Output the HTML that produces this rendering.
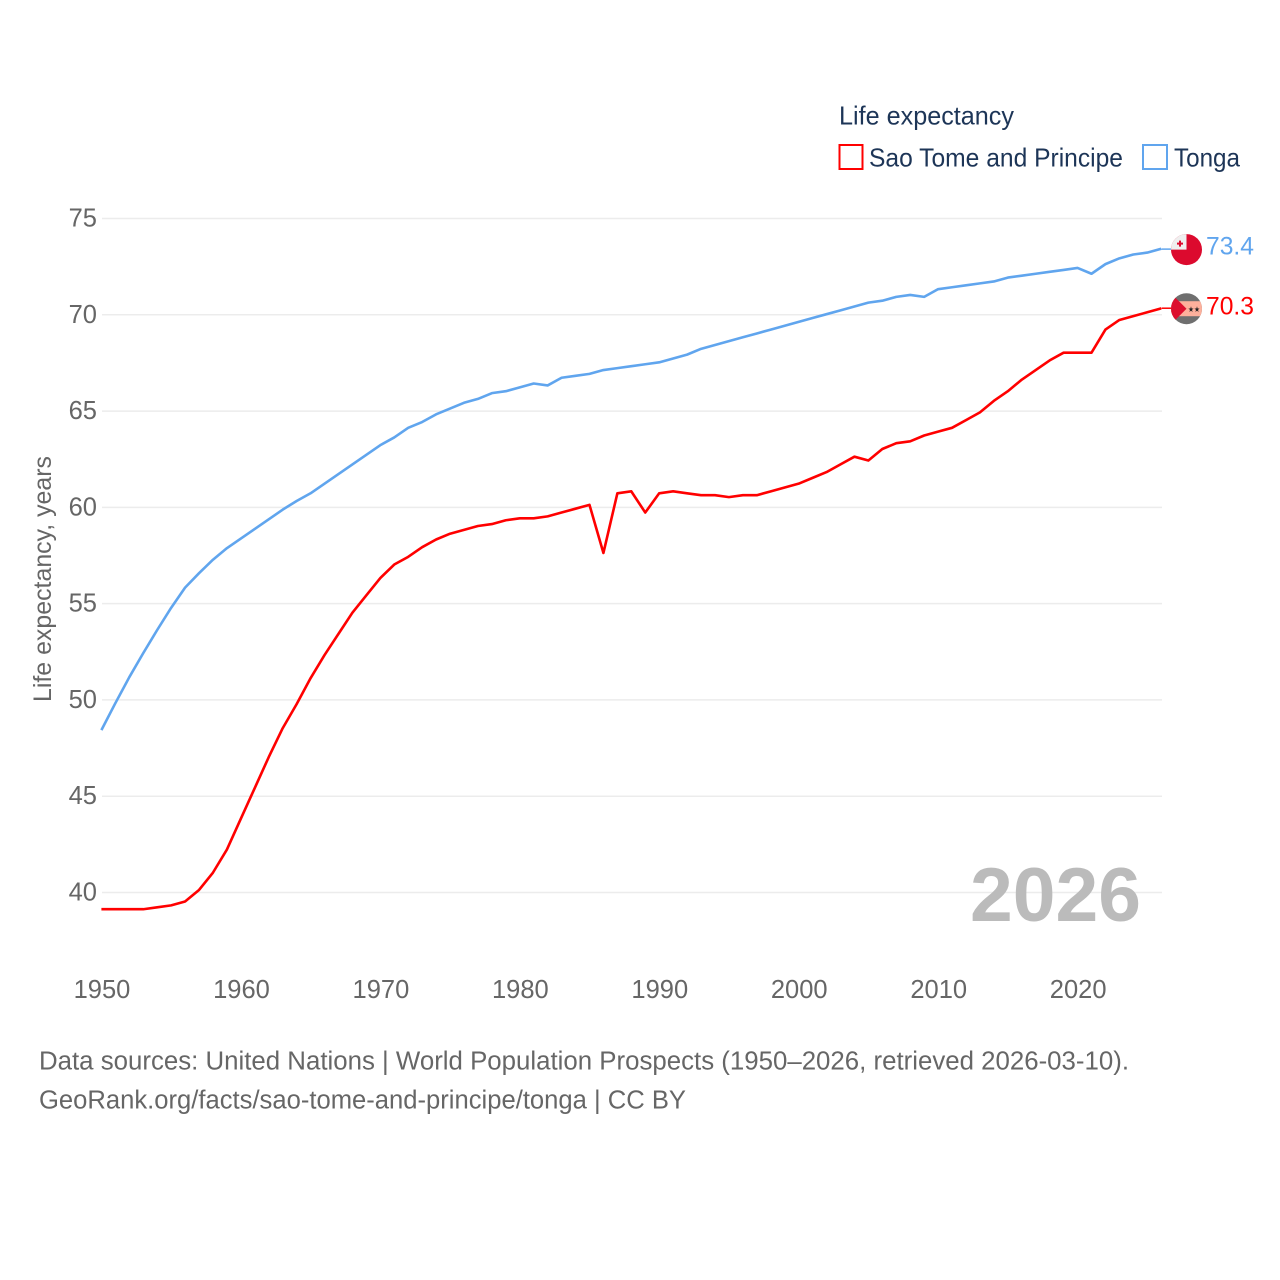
<!DOCTYPE html>
<html lang="en">
<head>
<meta charset="utf-8">
<title>Life expectancy: Sao Tome and Principe vs Tonga</title>
<style>
html,body{margin:0;padding:0;background:#fff}
body{width:1280px;height:1280px;overflow:hidden}
svg{display:block}
text{font-family:"Liberation Sans",sans-serif}
</style>
</head>
<body>
<svg id="chart" width="1280" height="1280" viewBox="0 0 1280 1280" xmlns="http://www.w3.org/2000/svg">
<defs>
<clipPath id="flag-clip-tonga"><circle cx="0" cy="0" r="15.5"/></clipPath>
<clipPath id="flag-clip-stp"><circle cx="0" cy="0" r="15.5"/></clipPath>
</defs>
<rect width="1280" height="1280" fill="#fff"/>
<g id="grid"></g>
<g id="yticks"></g>
<g id="xticks"></g>
<text transform="translate(51,702) rotate(-90)" font-size="25" fill="#666" textLength="246" lengthAdjust="spacingAndGlyphs">Life expectancy, years</text>
<text x="970" y="921" font-size="76" font-weight="700" fill="#bbbbbb" textLength="171" lengthAdjust="spacingAndGlyphs">2026</text>
<path id="line-stp" fill="none" stroke="#ff0000" stroke-width="2.6" stroke-linejoin="round" transform="translate(-0.6,-0.6)"/>
<path id="line-tonga" fill="none" stroke="#60a5ee" stroke-width="2.6" stroke-linejoin="round" transform="translate(-0.6,-0.6)"/>
<g id="flag-tonga">
<line id="conn-tonga" x1="-25" x2="-12" y1="-0.5" y2="-0.5" stroke="#60a5ee" stroke-width="1.5"/>
<g clip-path="url(#flag-clip-tonga)">
<rect x="-16" y="-16" width="32" height="32" fill="#dc0a2e"/>
<rect x="-16" y="-16" width="16" height="16" fill="#efefef"/>
<rect x="-9.500" y="-7" width="6" height="2" fill="#dc0a2e"/>
<rect x="-7.500" y="-9" width="2" height="6" fill="#dc0a2e"/>
</g>
</g>
<g id="flag-stp">
<line id="conn-stp" x1="-25" x2="-12" y1="-0.5" y2="-0.5" stroke="#ff0000" stroke-width="1.5"/>
<g clip-path="url(#flag-clip-stp)">
<rect x="-16" y="-16" width="32" height="32" fill="#6f6f6f"/>
<rect x="-16" y="-7.500" width="32" height="15" fill="#fdb09c"/>
<polygon points="-16,-16 0,0 -16,16" fill="#dc0f2e"/>
<text x="1.500" y="3.500" font-size="8" fill="#222" textLength="12" lengthAdjust="spacingAndGlyphs">★★</text>
</g>
</g>
<text id="val-tonga" x="1206" font-size="25" fill="#60a5ee" textLength="48" lengthAdjust="spacingAndGlyphs"></text>
<text id="val-stp" x="1206" font-size="25" fill="#ff0000" textLength="48" lengthAdjust="spacingAndGlyphs"></text>
<g>
<text x="839" y="124.500" font-size="26" fill="#1d3557" textLength="175" lengthAdjust="spacingAndGlyphs">Life expectancy</text>
<rect x="839.500" y="145" width="23" height="24" fill="none" stroke="#ff0000" stroke-width="2"/>
<text x="869" y="166.500" font-size="26" fill="#1d3557" textLength="254" lengthAdjust="spacingAndGlyphs">Sao Tome and Principe</text>
<rect x="1143" y="145" width="24" height="24" fill="none" stroke="#60a5ee" stroke-width="2"/>
<text x="1174" y="166.500" font-size="26" fill="#1d3557" textLength="66" lengthAdjust="spacingAndGlyphs">Tonga</text>
</g>
<text x="39" y="1069.500" font-size="25.500" fill="#666" textLength="1090" lengthAdjust="spacingAndGlyphs">Data sources: United Nations | World Population Prospects (1950–2026, retrieved 2026-03-10).</text>
<text x="39" y="1108.500" font-size="25.500" fill="#666" textLength="647" lengthAdjust="spacingAndGlyphs">GeoRank.org/facts/sao-tome-and-principe/tonga | CC BY</text>
</svg>
<script>
const startYear = 1950;
const yTickValues = [40, 45, 50, 55, 60, 65, 70, 75];
const xTickValues = [1950, 1960, 1970, 1980, 1990, 2000, 2010, 2020];
const stpValues = [39.1,39.1,39.1,39.1,39.2,39.3,39.5,40.1,41.0,42.2,43.8,45.4,47.0,48.5,49.75,51.1,52.3,53.4,54.5,55.4,56.3,57.0,57.4,57.9,58.3,58.6,58.8,59.0,59.1,59.3,59.4,59.4,59.5,59.7,59.9,60.1,57.6,60.7,60.8,59.7,60.7,60.8,60.7,60.6,60.6,60.5,60.6,60.6,60.8,61.0,61.2,61.5,61.8,62.2,62.6,62.4,63.0,63.3,63.4,63.7,63.9,64.1,64.5,64.9,65.5,66.0,66.6,67.1,67.6,68.0,68.0,68.0,69.2,69.7,69.9,70.1,70.3];
const tongaValues = [48.4,49.8,51.15,52.4,53.6,54.75,55.8,56.55,57.25,57.85,58.35,58.85,59.35,59.85,60.3,60.7,61.2,61.7,62.2,62.7,63.2,63.6,64.1,64.4,64.8,65.1,65.4,65.6,65.9,66.0,66.2,66.4,66.3,66.7,66.8,66.9,67.1,67.2,67.3,67.4,67.5,67.7,67.9,68.2,68.4,68.6,68.8,69.0,69.2,69.4,69.6,69.8,70.0,70.2,70.4,70.6,70.7,70.9,71.0,70.9,71.3,71.4,71.5,71.6,71.7,71.9,72.0,72.1,72.2,72.3,72.4,72.1,72.6,72.9,73.1,73.2,73.4];

const SVG_NS = 'http://www.w3.org/2000/svg';
function xScale(year) { return 102 + (year - 1950) * 13.945; }
function yScale(v) { return 892.5 - (v - 40) * 19.257; }
function linePath(values) {
  return values.map(function (v, i) {
    return (i ? 'L' : 'M') + xScale(startYear + i).toFixed(2) + ' ' + yScale(v).toFixed(2);
  }).join(' ');
}

const grid = document.getElementById('grid');
const yticks = document.getElementById('yticks');
const xticks = document.getElementById('xticks');

yTickValues.forEach(function (v) {
  const l = document.createElementNS(SVG_NS, 'line');
  
  
  l.setAttribute('x1', 102);
  l.setAttribute('x2', 1162);
  l.setAttribute('y1', yScale(v));
  l.setAttribute('y2', yScale(v));
  l.setAttribute('stroke', '#ececec');
  l.setAttribute('stroke-width', '1.5');
  grid.appendChild(l);

  const t = document.createElementNS(SVG_NS, 'text');
  
  
  t.setAttribute('x', 97);
  t.setAttribute('y', yScale(v) + 8);
  t.setAttribute('text-anchor', 'end');
  t.setAttribute('font-size', '25.5');
  t.setAttribute('fill', '#666');
  t.textContent = v;
  yticks.appendChild(t);
});

xTickValues.forEach(function (yr) {
  const t = document.createElementNS(SVG_NS, 'text');
  
  
  t.setAttribute('x', xScale(yr));
  t.setAttribute('y', 998);
  t.setAttribute('text-anchor', 'middle');
  t.setAttribute('font-size', '25.5');
  t.setAttribute('fill', '#666');
  t.textContent = yr;
  xticks.appendChild(t);
});

document.getElementById('line-stp').setAttribute('d', linePath(stpValues));
document.getElementById('line-tonga').setAttribute('d', linePath(tongaValues));

const lastStp = stpValues[stpValues.length - 1];
const lastTonga = tongaValues[tongaValues.length - 1];
document.getElementById('flag-tonga').setAttribute('transform', 'translate(1186.5,' + (yScale(lastTonga) + 0.3) + ')');
document.getElementById('flag-stp').setAttribute('transform', 'translate(1186.5,' + (yScale(lastStp) - 0.3) + ')');
const valTonga = document.getElementById('val-tonga');
valTonga.setAttribute('y', yScale(lastTonga) + 5);
valTonga.textContent = lastTonga.toFixed(1);
const valStp = document.getElementById('val-stp');
valStp.setAttribute('y', yScale(lastStp) + 5.5);
valStp.textContent = lastStp.toFixed(1);
</script>
</body>
</html>
